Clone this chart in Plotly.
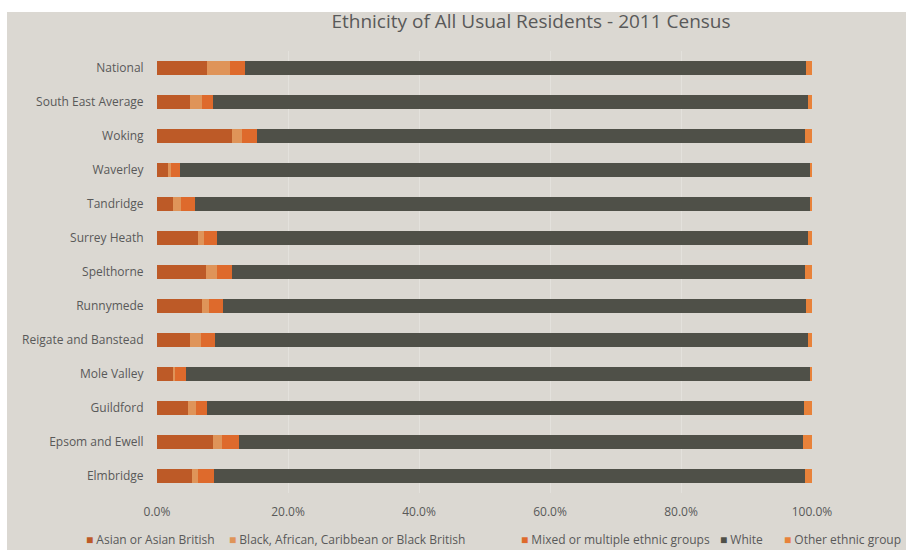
import plotly.graph_objects as go

# Share of usual residents by ethnic group, 2011 Census (percent)
areas = ["National", "South East Average", "Woking", "Waverley", "Tandridge",
         "Surrey Heath", "Spelthorne", "Runnymede", "Reigate and Banstead",
         "Mole Valley", "Guildford", "Epsom and Ewell", "Elmbridge"]

asian = [7.7, 5.1, 11.5, 1.7, 2.4, 6.3, 7.5, 6.8, 5.0, 2.4, 4.7, 8.5, 5.3]
black = [3.5, 1.7, 1.5, 0.5, 1.3, 0.9, 1.6, 1.2, 1.7, 0.4, 1.2, 1.4, 0.9]
mixed = [2.3, 1.8, 2.3, 1.3, 2.1, 2.0, 2.4, 2.1, 2.1, 1.6, 1.7, 2.6, 2.5]
white = [85.6, 90.8, 83.6, 96.2, 93.9, 90.2, 87.5, 89.0, 90.6, 95.3, 91.2, 86.1, 90.3]
other = [0.9, 0.6, 1.1, 0.3, 0.3, 0.6, 1.0, 0.9, 0.6, 0.3, 1.2, 1.4, 1.0]

groups = [
    ("Asian or Asian British", asian, "#BD5A27"),
    ("Black, African, Caribbean or Black British", black, "#DF9459"),
    ("Mixed or multiple ethnic groups", mixed, "#DE6A2C"),
    ("White", white, "#4F5048"),
    ("Other ethnic group", other, "#E8823A"),
]

tick_vals = [0, 20, 40, 60, 80, 100]
tick_text = ["0.0%", "20.0%", "40.0%", "60.0%", "80.0%", "100.0%"]

BG = "#DBD8D2"
TEXT = "#595959"
FONT = "Open Sans"

fig = go.Figure()
for name, vals, color in groups:
    fig.add_trace(go.Bar(
        y=areas, x=vals, name=name, orientation="h",
        marker=dict(color=color, line=dict(width=0)),
        showlegend=False,
    ))

W, H = 906, 550
L, R, T, B = 157, 94, 51, 57
pw, ph = W - L - R, H - T - B


def px_x(x):
    return (x - L) / pw


def px_y(y):
    return 1 - (y - T) / ph


shapes = [
    # grey chart area inside a thin white frame
    dict(type="rect", xref="paper", yref="paper", layer="below",
         x0=px_x(7), x1=px_x(W + 5), y0=px_y(H + 5), y1=px_y(12),
         fillcolor=BG, line=dict(width=0)),
]

# legend row: coloured square followed by the series name
legend_items = [
    (84, "Asian or Asian British", "#BD5A27"),
    (227, "Black, African, Caribbean or Black British", "#DF9459"),
    (519, "Mixed or multiple ethnic groups", "#DE6A2C"),
    (718, "White", "#4F5048"),
    (782, "Other ethnic group", "#E8823A"),
]
annotations = []
for x0, label, color in legend_items:
    annotations.append(dict(
        xref="paper", yref="paper", x=px_x(x0), y=px_y(539),
        xanchor="left", yanchor="middle", showarrow=False,
        text=f"<span style='color:{color}'>■</span> {label}",
        font=dict(family=FONT, size=12, color=TEXT),
    ))

fig.update_layout(
    width=W, height=H,
    margin=dict(l=L, r=R, t=T, b=B),
    barmode="stack",
    bargap=0.59,
    paper_bgcolor="white",
    plot_bgcolor="rgba(0,0,0,0)",
    font=dict(family=FONT, size=12, color=TEXT),
    title=dict(text="Ethnicity of All Usual Residents - 2011 Census",
               x=531 / W, xanchor="center",
               y=1 - 21 / H, yanchor="middle",
               font=dict(family=FONT, size=19, color=TEXT)),
    shapes=shapes,
    annotations=annotations,
    xaxis=dict(range=[0, 100], tickvals=tick_vals, ticktext=tick_text,
               showgrid=True, gridcolor="#E3E1DC", gridwidth=1,
               zeroline=False, showline=False,
               ticks="outside", ticklen=8, tickcolor="rgba(0,0,0,0)",
               tickfont=dict(family=FONT, size=12, color=TEXT)),
    yaxis=dict(autorange="reversed", showgrid=False, zeroline=False,
               showline=False, ticks="outside", ticklen=10,
               tickcolor="rgba(0,0,0,0)",
               tickfont=dict(family=FONT, size=12, color=TEXT)),
)

fig.write_html("out.html")
